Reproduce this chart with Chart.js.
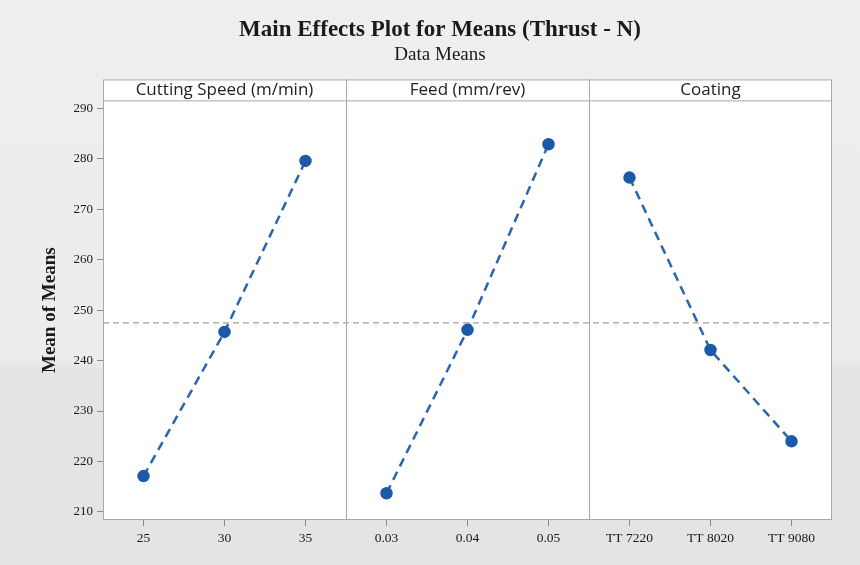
<!DOCTYPE html>
<html>
<head>
<meta charset="utf-8">
<script src="https://cdn.jsdelivr.net/npm/chart.js@4/dist/chart.umd.min.js"></script>
<style>
  html, body { margin: 0; padding: 0; }
  body {
    width: 860px; height: 565px; overflow: hidden;
    background: linear-gradient(to bottom, #efefef 0px, #ececec 360px, #e4e4e4 372px, #e4e4e4 565px);
  }
  #wrap { position: relative; width: 860px; height: 565px; }
</style>
</head>
<body>
<div id="wrap"><canvas id="c" width="860" height="565"></canvas></div>
<script>
// Factor names shown in the panel header strip
const factorNames = ['Cutting Speed (m/min)', 'Feed (mm/rev)', 'Coating'];

// Factor levels (x tick labels of each panel)
const speedLevels = ['25', '30', '35'];
const feedLevels = ['0.03', '0.04', '0.05'];
const coatingLevels = ['TT 7220', 'TT 8020', 'TT 9080'];

// Mean thrust force (N) at each level
const speedMeans = [217.1, 245.7, 279.6];
const feedMeans = [213.7, 246.1, 282.9];
const coatingMeans = [276.3, 242.1, 224.0];

// Y axis tick values
const yTicks = [210, 220, 230, 240, 250, 260, 270, 280, 290];

// Each panel occupies 3 units of a shared linear x scale; levels sit at .5 offsets
const levelLabels = [...speedLevels, ...feedLevels, ...coatingLevels];
const panelCount = factorNames.length;
const levelsPerPanel = 3;
const xMax = panelCount * levelsPerPanel;

function panelPoints(values, panelIndex) {
  return values.map((v, i) => ({ x: panelIndex * levelsPerPanel + i + 0.5, y: v }));
}

const allMeans = [...speedMeans, ...feedMeans, ...coatingMeans];
const grandMean = allMeans.reduce((a, b) => a + b, 0) / allMeans.length;

const lineBlue = '#2a65b0';
const pointBlue = '#1c59a8';
const serif = '"Liberation Serif", "Times New Roman", serif';

function factorDataset(values, idx) {
  return {
    data: panelPoints(values, idx),
    borderColor: lineBlue,
    backgroundColor: pointBlue,
    pointBackgroundColor: pointBlue,
    pointBorderColor: pointBlue,
    pointRadius: 5,
    pointHoverRadius: 5,
    borderWidth: 2.5,
    borderDash: [9, 6],
    tension: 0,
    clip: false
  };
}

// White plot/header area, frame and panel dividers
const panelFrame = {
  id: 'panelFrame',
  beforeDraw(chart) {
    const { ctx, chartArea } = chart;
    const top = chart.scales.x2;
    ctx.save();
    ctx.fillStyle = '#ffffff';
    ctx.fillRect(chartArea.left, top.top, chartArea.right - chartArea.left, chartArea.bottom - top.top);
    ctx.restore();
  },
  afterDraw(chart) {
    const { ctx, chartArea } = chart;
    const x = chart.scales.x;
    const top = chart.scales.x2;
    ctx.save();
    ctx.strokeStyle = '#a8a8a8';
    ctx.lineWidth = 1;
    ctx.strokeRect(chartArea.left + 0.5, top.top + 0.5, chartArea.right - chartArea.left - 1, chartArea.bottom - top.top - 1);
    ctx.beginPath();
    ctx.moveTo(chartArea.left, chartArea.top + 0.5);
    ctx.lineTo(chartArea.right, chartArea.top + 0.5);
    for (let p = 1; p < panelCount; p++) {
      const px = Math.round(x.getPixelForValue(p * levelsPerPanel)) + 0.5;
      ctx.moveTo(px, top.top);
      ctx.lineTo(px, chartArea.bottom);
    }
    ctx.stroke();
    ctx.restore();
  }
};

const chart = new Chart(document.getElementById('c'), {
  type: 'line',
  data: {
    datasets: [
      {
        data: [{ x: 0, y: grandMean }, { x: xMax, y: grandMean }],
        borderColor: '#a0a0a0',
        borderWidth: 1.2,
        borderDash: [6, 4],
        pointRadius: 0,
        order: 5
      },
      factorDataset(speedMeans, 0),
      factorDataset(feedMeans, 1),
      factorDataset(coatingMeans, 2)
    ]
  },
  options: {
    responsive: false,
    animation: false,
    layout: { padding: { left: 20, right: 0, top: 0, bottom: 0 } },
    plugins: {
      legend: { display: false },
      tooltip: { enabled: false },
      title: {
        display: true,
        text: 'Main Effects Plot for Means (Thrust - N)',
        color: '#1a1a1a',
        font: { family: serif, size: 23, weight: 'bold' },
        padding: { top: 16, bottom: 0 }
      },
      subtitle: {
        display: true,
        text: 'Data Means',
        color: '#1a1a1a',
        font: { family: serif, size: 19 },
        padding: { top: 0, bottom: 13 }
      }
    },
    scales: {
      x: {
        type: 'linear',
        min: 0,
        max: xMax,
        afterBuildTicks(scale) {
          scale.ticks = levelLabels.map((_, i) => ({ value: i + 0.5 }));
        },
        afterFit(scale) { scale.height = 45; },
        ticks: {
          color: '#1a1a1a',
          font: { family: serif, size: 13.5 },
          padding: 4,
          maxRotation: 0,
          autoSkip: false,
          callback: (value) => levelLabels[Math.floor(value)]
        },
        grid: { drawOnChartArea: false, tickLength: 6, color: '#8c8c8c' },
        border: { display: false }
      },
      x2: {
        type: 'linear',
        position: 'top',
        min: 0,
        max: xMax,
        afterBuildTicks(scale) {
          scale.ticks = factorNames.map((_, i) => ({ value: i * levelsPerPanel + levelsPerPanel / 2 }));
        },
        afterFit(scale) { scale.height = 21; },
        ticks: {
          color: '#222222',
          font: { family: '"Open Sans", "DejaVu Sans", sans-serif', size: 17 },
          padding: 0,
          maxRotation: 0,
          autoSkip: false,
          callback: (value) => factorNames[Math.floor(value / levelsPerPanel)]
        },
        grid: { display: false, drawTicks: false },
        border: { display: false }
      },
      y: {
        type: 'linear',
        min: 208.4,
        max: 291.6,
        afterBuildTicks(scale) {
          scale.ticks = yTicks.map(v => ({ value: v }));
        },
        afterFit(scale) { scale.width = 83; },
        title: {
          display: true,
          text: 'Mean of Means',
          color: '#1a1a1a',
          font: { family: serif, size: 19, weight: 'bold' },
          padding: { top: 19, bottom: 0 }
        },
        ticks: {
          color: '#1a1a1a',
          font: { family: serif, size: 13 },
          padding: 4
        },
        grid: { drawOnChartArea: false, tickLength: 6, color: '#8c8c8c' },
        border: { display: false }
      },
      // Empty right-hand margin axis
      yRight: {
        type: 'linear',
        position: 'right',
        min: 0,
        max: 1,
        afterFit(scale) { scale.width = 28; },
        ticks: { display: false },
        grid: { display: false, drawTicks: false },
        border: { display: false }
      }
    }
  },
  plugins: [panelFrame]
});
</script>
</body>
</html>
